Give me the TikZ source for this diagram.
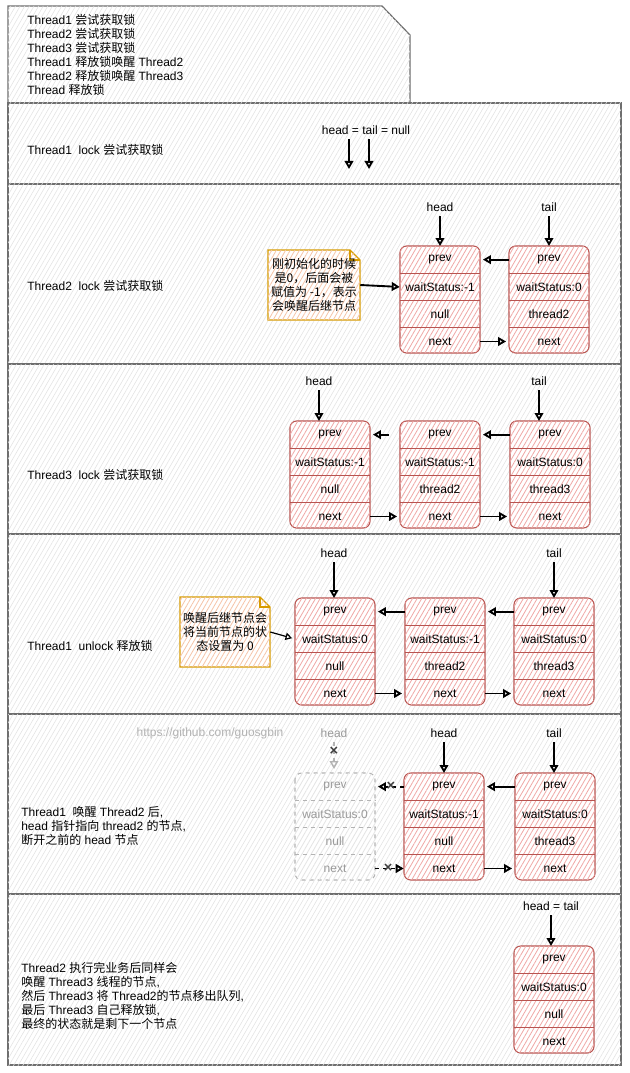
\documentclass[tikz,border=0pt]{standalone}
\usepackage{fontspec}
\setmainfont{Liberation Sans}
\newfontfamily\zhfont{Noto Sans CJK SC}
\newcommand{\zh}[1]{{\zhfont #1}}
\usetikzlibrary{positioning,arrows.meta,patterns.meta}

\definecolor{panelline}{HTML}{6E6E6E}
\definecolor{panelhatch}{HTML}{E2E2E2}
\definecolor{qborder}{HTML}{B85450}
\definecolor{qhatch}{HTML}{F0A8A6}
\definecolor{notedraw}{HTML}{D79B00}
\definecolor{notehatch}{HTML}{F6C4A8}
\definecolor{gborder}{HTML}{B3B3B3}
\definecolor{ghatch}{HTML}{E4E4E4}
\definecolor{gtext}{HTML}{9A9A9A}

\tikzset{
  every node/.style={font=\fontsize{9}{10.5}\selectfont},
  panel/.style={draw=panelline, line width=0.9pt, fill=white,
    postaction={pattern={Lines[angle=60,distance=3pt,line width=0.4pt]}, pattern color=panelhatch}},
  qnbox/.style={draw=qborder, line width=0.8pt, rounded corners=5pt, fill=white,
    postaction={pattern={Lines[angle=60,distance=3pt,line width=0.6pt]}, pattern color=qhatch}},
  qnsep/.style={draw=qborder, line width=0.6pt},
  qnrow/.style={minimum width=60pt, minimum height=20.06pt, inner sep=0pt},
  ghbox/.style={draw=gborder, dashed, line width=0.8pt, rounded corners=5pt, fill=white,
    postaction={pattern={Lines[angle=60,distance=3pt,line width=0.6pt]}, pattern color=ghatch}},
  ghsep/.style={draw=gborder, dashed, line width=0.6pt},
  ghrow/.style={qnrow, text=gtext},
  notebg/.style={draw=notedraw, line width=0.9pt, fill=white,
    postaction={pattern={Lines[angle=60,distance=3pt,line width=0.6pt]}, pattern color=notehatch}},
  notefold/.style={draw=notedraw, line width=0.9pt},
  notetext/.style={inner sep=0pt, align=center, font=\zhfont\fontsize{9}{10.5}\selectfont},
  txt/.style={anchor=west, inner sep=0pt, align=left},
  parr/.style={-{Triangle[open,length=6pt,width=6.5pt]}, line width=1.4pt},
  narr/.style={-{Triangle[open,length=5pt,width=5.5pt]}, line width=0.9pt},
  xarr/.style={parr, dashed},
  garr/.style={-{Triangle[open,length=6pt,width=6.5pt]}, line width=1.1pt, dashed, draw=gborder},
  cross/.style={inner sep=0pt, text=black!75, font=\bfseries\fontsize{11}{11}\selectfont},
}

% queue node: [look] name, centre x, top y, row 2, row 3
\newcommand{\qnode}[6][qn]{%
  \path[#1box] ({#3-40},#4) rectangle ({#3+40},{#4+107});
  \node[#1row, anchor=north] (#2-1) at (#3,#4) {prev};
  \node[#1row, below=0pt of #2-1] (#2-2) {#5};
  \node[#1row, below=0pt of #2-2] (#2-3) {#6};
  \node[#1row, below=0pt of #2-3] (#2-4) {next};
  \foreach \r in {1,2,3}
    \draw[#1sep] (#2-\r.south west) -- (#2-\r.south east);
}

% sticky note: name, x1, y1, x2, y2, text
\newcommand{\notebox}[6]{%
  \path[notebg] (#2,#3) -- ({#4-10},#3) -- (#4,{#3+10}) -- (#4,#5) -- (#2,#5) -- cycle;
  \draw[notefold] ({#4-10},#3) -- ({#4-10},{#3+10}) -- (#4,{#3+10});
  \node[notetext, minimum width={(#4-#2)*0.75pt}, minimum height={(#5-#3)*0.75pt}]
    (#1) at ({(#2+#4)/2},{(#3+#5)/2}) {#6};
}

\begin{document}
\begin{tikzpicture}[x=0.75pt, y=-0.75pt]
\fill[white] (0,0) rectangle (629,1073);
\useasboundingbox (0,0) rectangle (629,1073);

%Panels
\path[panel] (8,6) -- (382,6) -- (410,35) -- (410,103) -- (8,103) -- cycle;
\foreach \a/\b in {103/184,184/364,364/534,534/714,714/894,894/1065}
  \path[panel] (8,\a) rectangle (621,\b);

%Steps
\node[txt] (steps) at (27,55) {Thread1 \zh{尝试获取锁}\\Thread2 \zh{尝试获取锁}\\Thread3 \zh{尝试获取锁}\\
  Thread1 \zh{释放锁唤醒} Thread2\\Thread2 \zh{释放锁唤醒} Thread3\\Thread \zh{释放锁}};

%Panel 1
\node[txt] (t1) at (27,150) {Thread1\ \ lock \zh{尝试获取锁}};
\node (hn1) at (366,130) {head = tail = null};
\coordinate (nul1) at (349,169);
\coordinate (nul2) at (369,169);
\draw[parr] (hn1.south -| nul1) -- (nul1);
\draw[parr] (hn1.south -| nul2) -- (nul2);

%Panel 2
\node[txt] (t2) at (27,286) {Thread2\ \ lock \zh{尝试获取锁}};
\qnode{A21}{440}{246}{waitStatus:-1}{null}
\qnode{A22}{549}{246}{waitStatus:0}{thread2}
\node (h2) at (440,207) {head};
\node (tl2) at (549,207) {tail};
\draw[parr] (h2) -- (h2 |- A21-1.north);
\draw[parr] (tl2) -- (tl2 |- A22-1.north);
\notebox{n2}{268}{250}{360}{320}{刚初始化的时候\\是0，后面会被\\赋值为 -1，表示\\会唤醒后继节点}
\draw[parr] (n2.east) -- (A21-2.west);
\draw[parr, shorten >=2pt] (A22-1.west) -- (A21-1.east);
\draw[parr, shorten >=2pt] (A21-4.east) -- (A22-4.west);

%Panel 3
\node[txt] (t3) at (27,475) {Thread3\ \ lock \zh{尝试获取锁}};
\qnode{A31}{330}{421}{waitStatus:-1}{null}
\qnode{A32}{440}{421}{waitStatus:-1}{thread2}
\qnode{A33}{550}{421}{waitStatus:0}{thread3}
\node (h3) at (319,381) {head};
\node (tl3) at (539,381) {tail};
\draw[parr] (h3) -- (h3 |- A31-1.north);
\draw[parr] (tl3) -- (tl3 |- A33-1.north);
\draw[parr, shorten <=8pt, shorten >=2pt] (A32-1.west) -- (A31-1.east);
\draw[parr, shorten >=2pt] (A33-1.west) -- (A32-1.east);
\draw[parr, shorten >=2pt] (A31-4.east) -- (A32-4.west);
\draw[parr, shorten >=2pt] (A32-4.east) -- (A33-4.west);

%Panel 4
\node[txt] (t4) at (27,646) {Thread1\ \ unlock \zh{释放锁}};
\qnode{A41}{335}{598}{waitStatus:0}{null}
\qnode{A42}{445}{598}{waitStatus:-1}{thread2}
\qnode{A43}{554}{598}{waitStatus:0}{thread3}
\node (h4) at (334,553) {head};
\node (tl4) at (554,553) {tail};
\draw[parr] (h4) -- (h4 |- A41-1.north);
\draw[parr] (tl4) -- (tl4 |- A43-1.north);
\notebox{n4}{180}{597}{270}{667}{唤醒后继节点会\\将当前节点的状\\态设置为 0}
\draw[narr, shorten >=2pt] (n4.east) -- (A41-2.west);
\draw[parr, shorten >=2pt] (A42-1.west) -- (A41-1.east);
\draw[parr, shorten >=2pt] (A43-1.west) -- (A42-1.east);
\draw[parr, shorten >=2pt] (A41-4.east) -- (A42-4.west);
\draw[parr, shorten >=2pt] (A42-4.east) -- (A43-4.west);

%Panel 5
\node[text=gborder] (url) at (210,733) {https://github.com/guosgbin};
\node[txt] (t5) at (21,826) {Thread1\ \ \zh{唤醒} Thread2 \zh{后},\\head \zh{指针指向} thread2 \zh{的节点},\\
  \zh{断开之前的} head \zh{节点}};
\qnode[gh]{G5}{335}{773}{waitStatus:0}{null}
\qnode{A52}{444}{773}{waitStatus:-1}{null}
\qnode{A53}{555}{773}{waitStatus:0}{thread3}
\node[text=gtext] (gh5) at (334,733) {head};
\node (h5) at (444,733) {head};
\node (tl5) at (554,733) {tail};
\draw[garr, shorten >=3pt] (gh5) -- (gh5 |- G5-1.north) node[cross, pos=0.3] {×};
\draw[parr] (h5) -- (h5 |- A52-1.north);
\draw[parr] (tl5) -- (tl5 |- A53-1.north);
\draw[xarr, shorten >=2pt] (A52-1.west) -- (G5-1.east) node[cross, pos=0.45] {×};
\draw[xarr] (G5-4.east) -- (A52-4.west) node[cross, pos=0.45] {×};
\draw[parr, shorten >=2pt] (A53-1.west) -- (A52-1.east);
\draw[parr, shorten >=2pt] (A52-4.east) -- (A53-4.west);

%Panel 6
\node[txt] (t6) at (21,996) {Thread2 \zh{执行完业务后同样会}\\\zh{唤醒} Thread3 \zh{线程的节点},\\
  \zh{然后} Thread3 \zh{将} Thread2\zh{的节点移出队列},\\\zh{最后} Thread3 \zh{自己释放锁},\\
  \zh{最终的状态就是剩下一个节点}};
\qnode{A61}{554}{946}{waitStatus:0}{null}
\node (h6) at (551,906) {head = tail};
\draw[parr] (h6) -- (h6 |- A61-1.north);
\end{tikzpicture}
\end{document}
